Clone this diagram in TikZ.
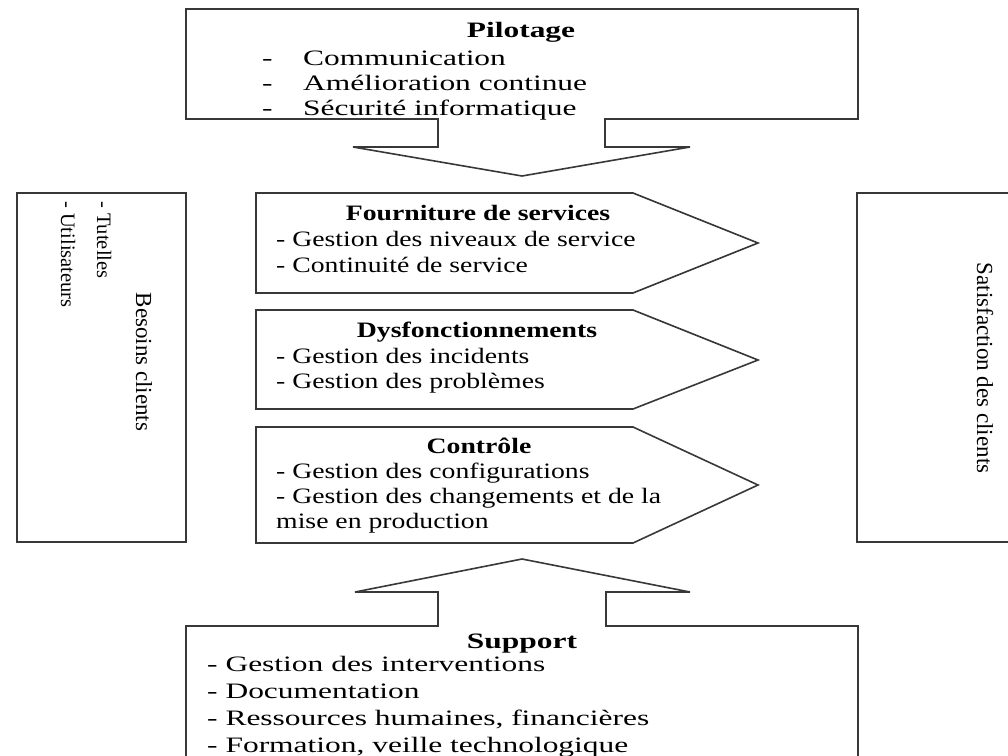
\documentclass[tikz,border=0pt]{standalone}
\usepackage{fontspec}
\setmainfont{Liberation Serif}
\newfontfamily\wideA[FakeStretch=1.43]{Liberation Serif}
\newfontfamily\wideB[FakeStretch=1.26]{Liberation Serif}
\begin{document}
\begin{tikzpicture}[x=1pt,y=-1pt,
  outline/.style={draw=black!78,line width=1.6pt,line join=miter},
  txtA/.style={inner sep=0pt,anchor=base west,font=\wideA\fontsize{22}{26}\selectfont},
  txtB/.style={inner sep=0pt,anchor=base west,font=\wideB\fontsize{22}{26}\selectfont},
  headA/.style={inner sep=0pt,anchor=base,font=\wideA\bfseries\fontsize{22}{26}\selectfont},
  headB/.style={inner sep=0pt,anchor=base,font=\wideB\bfseries\fontsize{22}{26}\selectfont},
  vert/.style={inner sep=0pt,rotate=-90,font=\fontsize{20.5}{24}\selectfont},
  verttitle/.style={inner sep=0pt,rotate=-90,anchor=base,font=\fontsize{23}{26}\selectfont}]
\useasboundingbox (0,0) rectangle (1008,755);
\clip (0,0) rectangle (1008,755);

% top box with down arrow
\draw[outline] (186,9) -- (858,9) -- (858,119) -- (605,119) -- (605,147) -- (690,147)
  -- (522,176) -- (353,147) -- (438,147) -- (438,119) -- (186,119) -- cycle;
\node[headA] (pil) at (521,37) {Pilotage};
\node[txtA] (pil1) at (262,65) {\makebox[41pt][l]{-}Communication};
\node[txtA] (pil2) at (262,90) {\makebox[41pt][l]{-}Amélioration continue};
\node[txtA] (pil3) at (262,115) {\makebox[41pt][l]{-}Sécurité informatique};

% left box
\draw[outline] (17,193) rectangle (186,542);
\node[vert,anchor=base west] (tut) at (97,201) {- Tutelles};
\node[vert,anchor=base west] (uti) at (61,201) {- Utilisateurs};
\node[verttitle] (bes) at (136,362) {Besoins clients};

% right box
\draw[outline] (1030,193) -- (857,193) -- (857,542) -- (1030,542);
\node[verttitle] (sat) at (977,368) {Satisfaction des clients};

% middle pentagons
\draw[outline] (256,193) -- (633,193) -- (758,243) -- (633,293) -- (256,293) -- cycle;
\node[headB] (fou) at (478,220) {Fourniture de services};
\node[txtB] (fou1) at (276,246) {- Gestion des niveaux de service};
\node[txtB] (fou2) at (276,272) {- Continuité de service};

\draw[outline] (256,310) -- (633,310) -- (758,360) -- (633,409) -- (256,409) -- cycle;
\node[headB] (dys) at (477,337) {Dysfonctionnements};
\node[txtB] (dys1) at (276,363) {- Gestion des incidents};
\node[txtB] (dys2) at (276,388) {- Gestion des problèmes};

\draw[outline] (256,427) -- (633,427) -- (758,485) -- (633,543) -- (256,543) -- cycle;
\node[headB] (con) at (479,453) {Contrôle};
\node[txtB] (con1) at (276,478) {- Gestion des configurations};
\node[txtB] (con2) at (276,503) {- Gestion des changements et de la};
\node[txtB] (con3) at (276,528) {mise en production};

% bottom box with up arrow
\draw[outline] (186,780) -- (186,626) -- (438,626) -- (438,592) -- (355,592) -- (522,559)
  -- (690,592) -- (606,592) -- (606,626) -- (858,626) -- (858,780);
\node[headA] (sup) at (522,648) {Support};
\node[txtA] (sup1) at (207,671) {- Gestion des interventions};
\node[txtA] (sup2) at (207,698) {- Documentation};
\node[txtA] (sup3) at (207,725) {- Ressources humaines, financières};
\node[txtA] (sup4) at (207,752) {- Formation, veille technologique};
\end{tikzpicture}
\end{document}
